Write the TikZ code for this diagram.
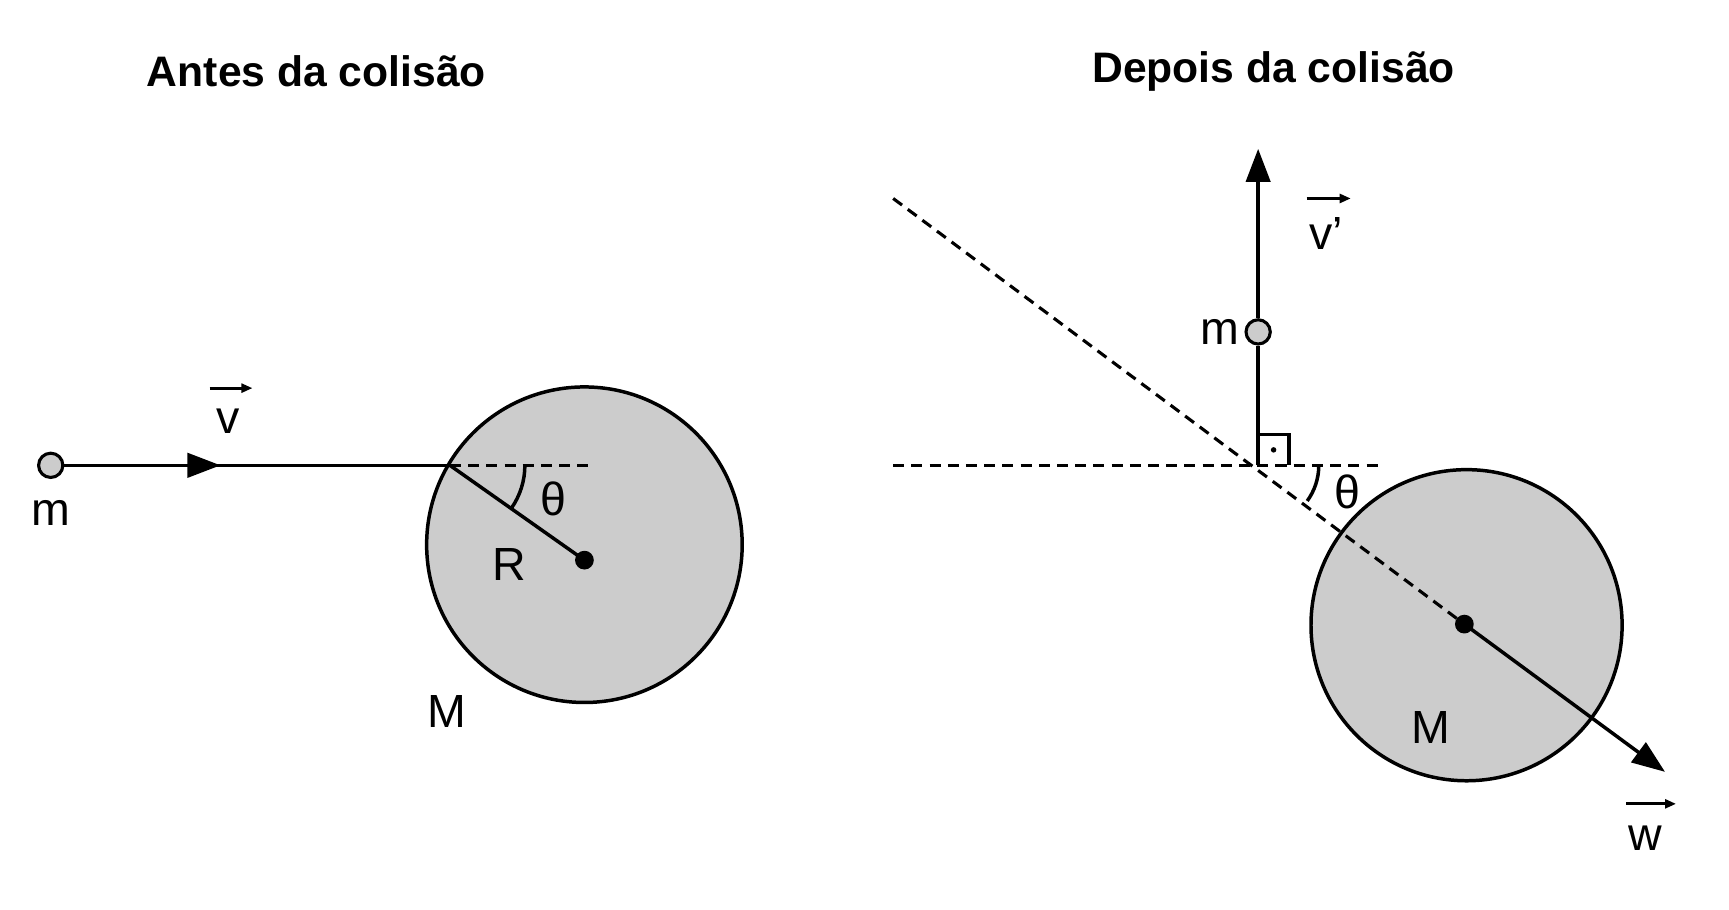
\documentclass[tikz,border=0pt]{standalone}
\usepackage{fontspec}
\setmainfont{Liberation Sans}
\usetikzlibrary{arrows.meta}
\begin{document}
\begin{tikzpicture}[x=0.01cm,y=-0.01cm,
  lbl/.style={font=\fontsize{12}{14}\selectfont,inner sep=0pt},
  ttl/.style={font=\bfseries\fontsize{11}{13}\selectfont,inner sep=0pt},
  ball/.style={circle,draw,line width=0.8pt,fill=gray!40,minimum size=0.22cm,inner sep=0pt},
  body/.style={circle,draw,line width=0.9pt,fill=gray!40,inner sep=0pt},
  dot/.style={circle,fill=black,minimum size=0.17cm,inner sep=0pt},
  ln/.style={line width=0.9pt},
  dsh/.style={line width=0.8pt,dash pattern=on 0.1cm off 0.065cm},
  big/.style={-{Triangle[length=0.3cm,width=0.22cm]}},
  small/.style={-{Triangle[length=0.1cm,width=0.08cm]},line width=0.8pt}]
\useasboundingbox[fill=white] (0,0) rectangle (1568,825);
% Left
\node[ttl] (t1) at (287,65) {Antes da colisão};
\node[body,minimum size=2.86cm] (B1) at (530,494) {};
\node[ball] (m1) at (46,422) {};
\node[lbl] (lm1) at (46,465) {m};
\coordinate (c1) at (408,422);
\coordinate (mid1) at (200,422);
\draw[ln] (m1) -- (c1);
\draw[ln,big] (m1) -- (mid1);
\draw[dsh] (c1) -- (535,422);
\node[dot] (d1) at (530,508) {};
\draw[ln] (c1) -- (d1.center);
\draw[ln] (c1) ++(0:68) arc[start angle=0,end angle=35,radius=68];
\node[lbl] (th1) at (502,452) {θ};
\node[lbl] (R) at (462,512) {R};
\node[lbl] (M1) at (405,645) {M};
\node[lbl] (v) at (207,382) {v};
\draw[small] (190,352) -- (229,352);
% Right
\node[ttl] (t2) at (1155,65) {Depois da colisão};
\node[body,minimum size=2.82cm] (B2) at (1330,567) {};
\coordinate (P) at (1141,422);
\coordinate (top) at (1141,135);
\node[ball] (m2) at (1141,301) {};
\node[lbl] (lm2) at (1106,301) {m};
\draw[ln] (P) -- (m2);
\draw[ln,big] (m2) -- (top);
\draw[dsh] (810,422) -- (1250,422);
\coordinate (dl) at (810,180);
\node[dot] (d2) at (1328,566) {};
\draw[dsh] (dl) -- (d2.center);
\coordinate (wt) at (1510,700);
\draw[ln,big] (d2.center) -- (wt);
\draw[ln] (1141,394) -- (1169,394) -- (1169,422);
\fill (1155,408) circle (2.5);
\draw[ln] (P) ++(0:55) arc[start angle=0,end angle=36,radius=55];
\node[lbl] (th2) at (1222,446) {θ};
\node[lbl] (M2) at (1298,660) {M};
\node[lbl] (vp) at (1203,212) {v'};
\draw[small] (1185,180) -- (1225,180);
\node[lbl] (w) at (1492,760) {w};
\draw[small] (1475,729) -- (1520,729);
\end{tikzpicture}
\end{document}
